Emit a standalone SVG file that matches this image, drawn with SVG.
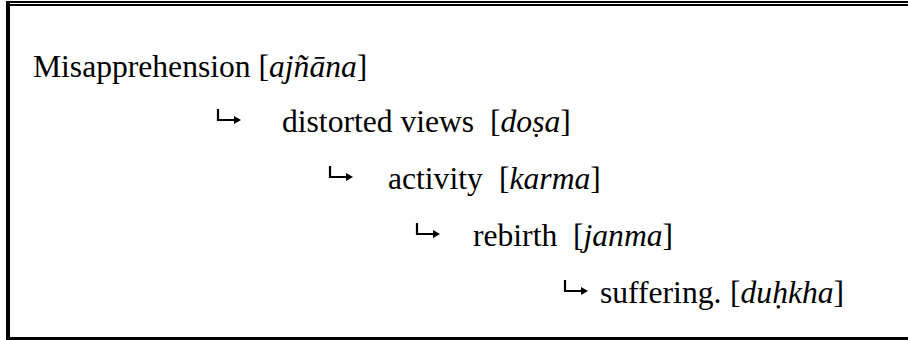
<svg xmlns="http://www.w3.org/2000/svg" width="908" height="340" viewBox="0 0 908 340">
<style>
.t{font-family:"Liberation Serif","Times New Roman",serif;font-size:31.6px;fill:#000}
.i{font-style:italic}
.a{fill:none;stroke:#000;stroke-width:2.2}
.h{fill:#000}
</style>
<rect width="908" height="340" fill="#fff"/>
<g id="frame">
<rect x="6" y="1" width="902" height="2" fill="#000"/>
<rect x="10" y="4" width="898" height="2" fill="#000"/>
<rect x="6" y="1" width="4" height="338" fill="#000"/>
<rect x="6" y="337" width="902" height="3" fill="#000"/>
</g>
<g id="connectors">
<path class="a" d="M218 109V120H235"/><path class="h" d="M234 116L241 120L234 124Z"/>
<path class="a" d="M330 166V177H347"/><path class="h" d="M346 173L353 177L346 181Z"/>
<path class="a" d="M417 223V234H434"/><path class="h" d="M433 230L440 234L433 238Z"/>
<path class="a" d="M565 280V291H582"/><path class="h" d="M581 287L588 291L581 295Z"/>
</g>
<g id="n1"><text class="t" x="33" y="77">Misapprehension [<tspan class="i">ajñāna</tspan>]</text></g>
<g id="n2"><text class="t" x="282" y="132">distorted views</text><text class="t" x="490" y="132">[<tspan class="i">doṣa</tspan>]</text></g>
<g id="n3"><text class="t" x="388" y="189">activity</text><text class="t" x="499" y="189">[<tspan class="i">karma</tspan>]</text></g>
<g id="n4"><text class="t" x="473" y="246">rebirth</text><text class="t" x="573" y="246">[<tspan class="i">janma</tspan>]</text></g>
<g id="n5"><text class="t" x="600" y="303">suffering.</text><text class="t" x="730" y="303">[<tspan class="i">duḥkha</tspan>]</text></g>
</svg>
